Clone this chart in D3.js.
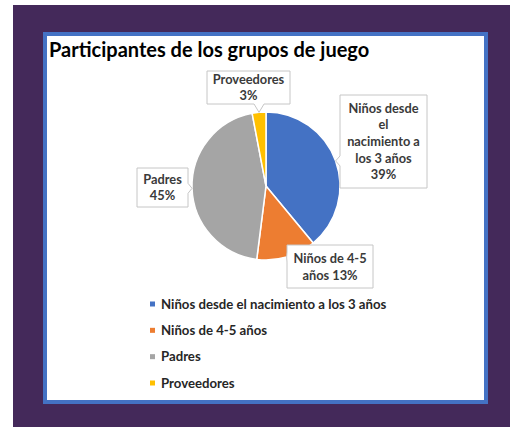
<!DOCTYPE html>
<meta charset="utf-8">
<style>
  body { margin: 0; background: #fff; }
  svg { display: block; }
  text { font-family: Lato, "Open Sans", sans-serif; font-weight: bold; }
</style>
<svg width="510" height="427"></svg>
<script src="https://d3js.org/d3.v7.min.js"></script>
<script>

// data
var categories = ["Niños desde el nacimiento a los 3 años", "Niños de 4-5 años", "Padres", "Proveedores"];
var values = [39, 13, 45, 3];
var colors = ["#4472c4", "#ed7d31", "#a5a5a5", "#ffc000"];
// how the data labels wrap (percent gets appended by the code)
var labelLines = [["Niños desde", "el", "nacimiento a", "los 3 años"], ["Niños de 4-5", "años"], ["Padres"], ["Proveedores"]];
var pctOwnLine = [true, false, true, true];

var svg = d3.select("svg");

// purple frame + blue bordered chart area
svg.append("rect").attr("x", 13).attr("y", 5).attr("width", 497).attr("height", 422).attr("fill", "#44295a");
svg.append("rect").attr("x", 45).attr("y", 34).attr("width", 441).attr("height", 368)
    .attr("fill", "#fff").attr("stroke", "#4472c4").attr("stroke-width", 4);

svg.append("text").attr("x", 49).attr("y", 57).attr("font-size", 20).attr("fill", "#000")
    .text("Participantes de los grupos de juego");

var cx = 266, cy = 186, r = 74;
var total = d3.sum(values);

var pie = d3.pie().sort(null).value(function(d) { return d; });
var arcs = pie(values);
var arc = d3.arc().innerRadius(0).outerRadius(r);
var edge = d3.arc().innerRadius(r).outerRadius(r);

var g = svg.append("g").attr("transform", "translate(" + cx + "," + cy + ")");

g.selectAll("path")
  .data(arcs)
  .enter().append("path")
    .attr("d", arc)
    .attr("fill", function(d, i) { return colors[i]; })
    .attr("stroke", "#fff")
    .attr("stroke-width", 1.5);

// callout boxes (relative to the pie centre)
var boxes = [
  {x: 74, y: -91, w: 87, h: 93, dy: 16.7},
  {x: 21, y: 59, w: 86, h: 43, dy: 17},
  {x: -129, y: -18, w: 51, h: 39, dy: 15.5},
  {x: -59, y: -115, w: 83, h: 33, dy: 16}
];

function clamp(v, a, b) { return Math.max(a, Math.min(b, v)); }

function calloutPath(b, t) {
  var x0 = b.x, y0 = b.y, x1 = b.x + b.w, y1 = b.y + b.h, hw = 5;
  var side = t[0] < x0 ? "left" : t[0] > x1 ? "right" : t[1] < y0 ? "top" : t[1] > y1 ? "bottom" : null;
  var px = clamp(t[0], x0 + hw + 2, x1 - hw - 2), py = clamp(t[1], y0 + hw + 2, y1 - hw - 2);
  var tip = t[0] + "," + t[1];
  var p = "M" + x0 + "," + y0;
  if (side === "top") p += "L" + (px - hw) + "," + y0 + "L" + tip + "L" + (px + hw) + "," + y0;
  p += "L" + x1 + "," + y0;
  if (side === "right") p += "L" + x1 + "," + (py - hw) + "L" + tip + "L" + x1 + "," + (py + hw);
  p += "L" + x1 + "," + y1;
  if (side === "bottom") p += "L" + (px + hw) + "," + y1 + "L" + tip + "L" + (px - hw) + "," + y1;
  p += "L" + x0 + "," + y1;
  if (side === "left") p += "L" + x0 + "," + (py + hw) + "L" + tip + "L" + x0 + "," + (py - hw);
  return p + "Z";
}

var labels = g.selectAll("g.lab")
  .data(arcs)
  .enter().append("g").attr("class", "lab");

labels.append("path")
    .attr("d", function(d, i) { return calloutPath(boxes[i], edge.centroid(d)); })
    .attr("fill", "#fff")
    .attr("stroke", "#c6c6c6")
    .attr("stroke-width", 1);

labels.each(function(d, i) {
  var b = boxes[i];
  var pct = Math.round(values[i] / total * 100) + "%";
  var lines = labelLines[i].slice();
  if (pctOwnLine[i]) lines.push(pct); else lines[lines.length - 1] += " " + pct;
  var top = b.y + b.h / 2 - (lines.length - 1) * b.dy / 2 + 4.5;
  d3.select(this).selectAll("text")
    .data(lines)
    .enter().append("text")
      .attr("x", b.x + b.w / 2)
      .attr("y", function(l, j) { return top + j * b.dy; })
      .attr("text-anchor", "middle")
      .attr("font-size", 12.8)
      .attr("fill", "#3a3a3a")
      .text(function(l) { return l; });
});

// legend
var ly = d3.scalePoint().domain(categories).range([304, 383]);

var legend = svg.append("g").selectAll("g")
  .data(categories)
  .enter().append("g")
    .attr("transform", function(d) { return "translate(150," + ly(d) + ")"; });

legend.append("rect")
    .attr("x", 0).attr("y", -2.5)
    .attr("width", 5).attr("height", 5)
    .attr("fill", function(d, i) { return colors[i]; });

legend.append("text")
    .attr("x", 11)
    .attr("y", 4.5)
    .attr("font-size", 13.2)
    .attr("fill", "#262626")
    .text(function(d) { return d; });

</script>
